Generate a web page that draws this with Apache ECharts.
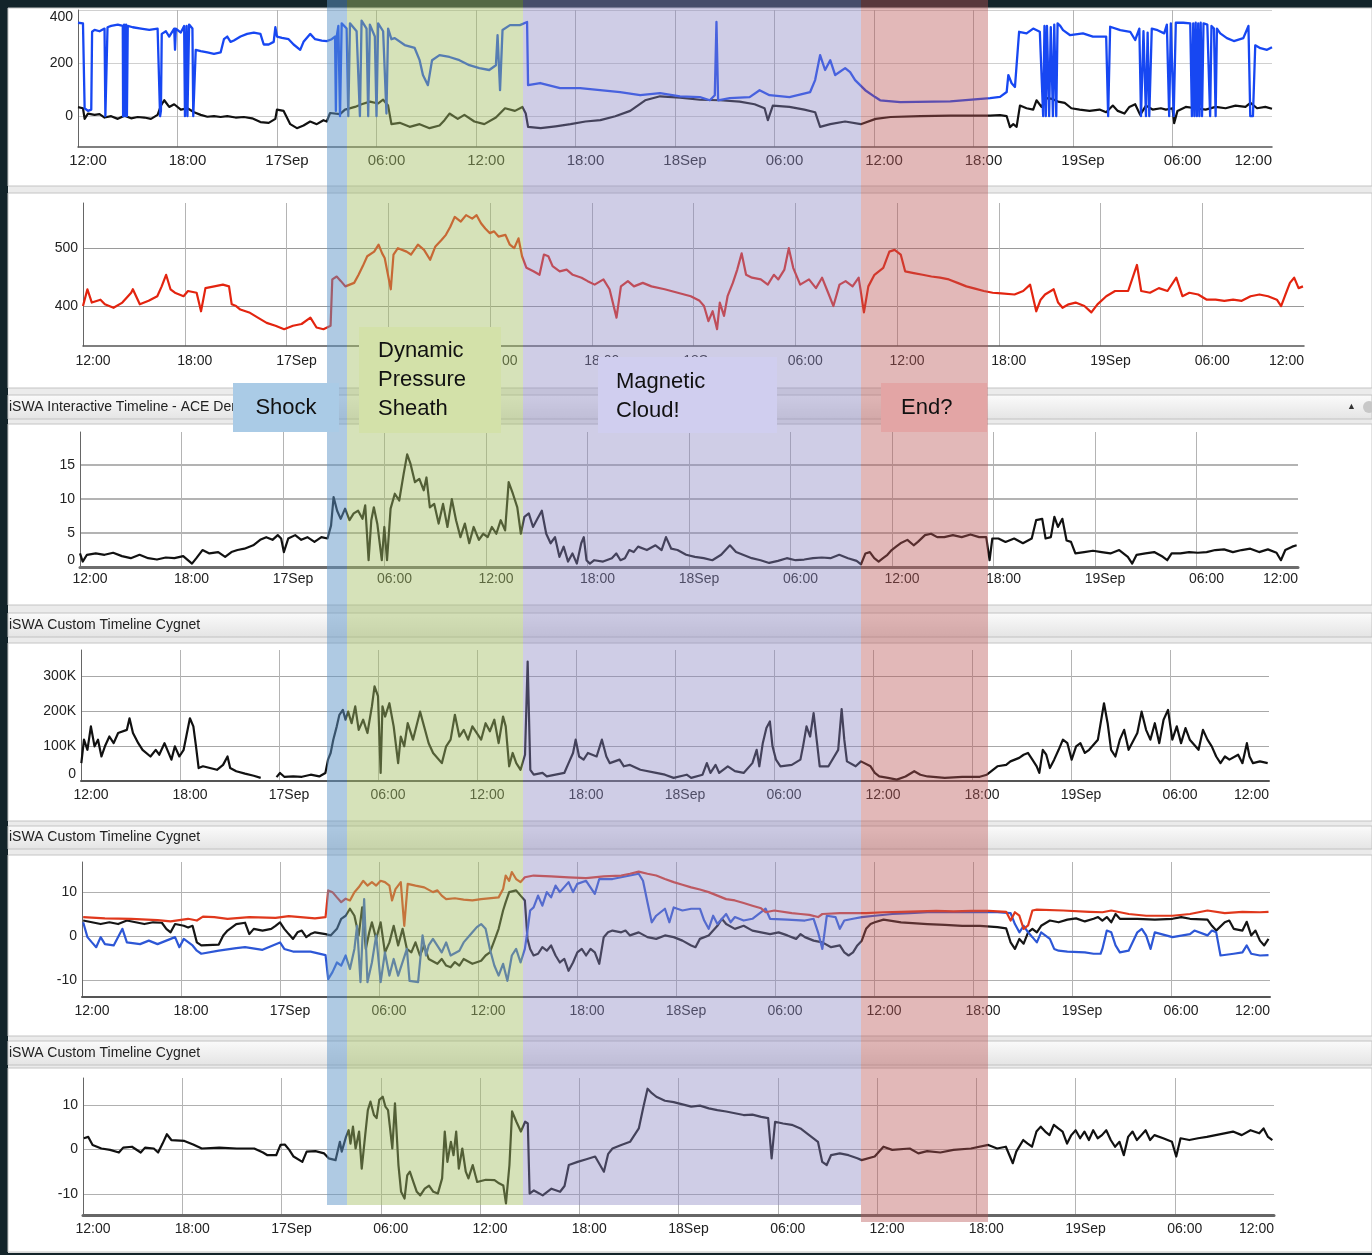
<!DOCTYPE html>
<html><head><meta charset="utf-8">
<script src="https://cdn.jsdelivr.net/npm/echarts@6/dist/echarts.min.js"></script>
<style>html,body{margin:0;padding:0;background:#13242a;overflow:hidden}#c{width:1372px;height:1255px}</style>
</head><body><div id="c"></div>
<script>
// time axis: hours since 16 Sep 12:00, tick every 6 h
const X_TICK_LABELS = ['12:00','18:00','17Sep','06:00','12:00','18:00','18Sep','06:00','12:00','18:00','19Sep','06:00','12:00'];

// Panel 1 (two traces)
const P1_Y_TICKS = [0, 200, 400];
const P1_BLACK = [[0,34],[0.3,30],[0.4,-10],[0.6,10],[1.0,5],[1.3,8],[1.6,-5],[2.0,0],[2.4,-10],[2.8,2],[3.2,-8],[3.6,-3],[4.0,-5],[4.4,-10],[4.8,5],[5.0,40],[5.2,60],[5.5,35],[5.8,45],[6.2,25],[6.6,30],[7.0,15],[7.4,5],[7.8,-2],[8.2,0],[8.6,-3],[9.0,0],[9.5,-5],[10.0,-3],[10.5,-8],[11.0,-22],[11.5,-25],[11.9,-10],[12.0,25],[12.4,20],[12.8,-30],[13.2,-45],[13.6,-35],[14.0,-20],[14.4,-30],[14.8,-15],[15.0,-20],[15.2,12],[15.8,8],[16.1,25],[16.7,35],[17.1,45],[17.6,55],[18.1,48],[18.4,62],[18.7,40],[18.9,-30],[19.4,-25],[20.0,-40],[20.6,-30],[21.2,-45],[21.8,-35],[22.1,-15],[22.4,10],[22.9,-10],[23.3,5],[23.9,-20],[24.5,-30],[25.2,-5],[25.75,30],[26.35,20],[26.8,35],[27.0,10],[27.14,-40],[27.9,-45],[28.8,-38],[29.7,-30],[30.6,-20],[31.5,-15],[32.4,0],[33.3,20],[34.2,60],[35.1,75],[36.3,70],[37.5,62],[38.7,60],[39.9,55],[40.8,45],[41.4,30],[41.6,-15],[41.9,40],[42.9,35],[43.8,25],[44.45,15],[44.75,-40],[45.36,-30],[46.26,-20],[47.2,-30],[48.1,-10],[49.0,-3],[50.8,0],[52.6,2],[55.0,2],[55.6,4],[56.0,0],[56.2,-41],[56.4,-30],[56.6,-40],[56.8,40],[57.2,30],[57.6,25],[57.8,60],[58.1,35],[58.4,68],[58.75,65],[59.1,55],[59.5,50],[59.9,30],[60.4,25],[61.0,20],[61.6,25],[62.0,15],[62.4,40],[62.7,20],[63.1,10],[63.4,35],[63.75,45],[64.05,5],[64.4,40],[64.8,25],[65.3,30],[65.6,25],[66.0,30],[66.1,-26],[66.3,20],[66.8,35],[67.4,30],[68.0,25],[68.6,35],[69.2,30],[69.8,40],[70.4,35],[70.7,50],[71.1,30],[71.6,35],[72.0,28]];
const P1_BLUE = [[0,352],[0.3,350],[0.4,30],[0.6,20],[0.8,25],[0.85,318],[1.0,325],[1.3,320],[1.6,330],[1.65,0],[1.75,0],[1.78,335],[2.0,340],[2.4,345],[2.7,340],[2.72,0],[2.78,345],[2.82,0],[2.9,345],[2.95,0],[3.0,340],[3.3,335],[3.8,330],[4.3,325],[4.8,330],[4.95,0],[5.0,20],[5.05,310],[5.3,320],[5.5,300],[5.8,330],[5.85,250],[5.9,330],[6.2,315],[6.4,340],[6.45,0],[6.55,340],[6.6,0],[6.65,0],[6.7,345],[6.9,330],[6.95,0],[7.05,0],[7.1,250],[7.4,245],[7.8,240],[8.2,235],[8.6,240],[8.8,290],[9.0,300],[9.2,280],[9.4,285],[9.8,300],[10.2,310],[10.6,315],[11.0,310],[11.2,270],[11.5,270],[11.8,280],[11.9,335],[12.0,300],[12.3,295],[12.7,290],[13.0,270],[13.4,250],[13.6,280],[14.0,310],[14.3,290],[14.7,285],[15.0,283],[15.3,290],[15.5,300],[15.55,20],[15.6,300],[15.7,340],[15.8,0],[15.9,350],[16.2,330],[16.3,0],[16.4,350],[16.8,320],[17.0,0],[17.1,360],[17.4,330],[17.5,0],[17.6,345],[17.9,300],[18.0,0],[18.1,350],[18.4,320],[18.6,10],[18.7,330],[18.9,290],[19.1,294],[19.7,268],[20.3,257],[20.6,211],[20.8,155],[21.1,117],[21.35,211],[21.8,230],[22.4,223],[23.0,211],[23.6,192],[24.2,181],[24.8,174],[25.2,192],[25.3,305],[25.45,98],[25.6,325],[26.05,343],[26.65,343],[27.08,355],[27.14,117],[27.26,117],[27.87,125],[29.07,106],[30.28,106],[31.48,98],[32.69,91],[33.9,79],[35.1,87],[36.3,75],[37.5,72],[38.1,60],[38.4,79],[38.5,355],[38.6,60],[39.3,68],[40.5,72],[41.1,98],[41.7,79],[42.9,72],[44.15,91],[44.45,136],[44.75,230],[45.05,174],[45.36,211],[45.66,155],[46.26,181],[46.56,166],[46.86,136],[47.47,98],[48.07,72],[48.37,60],[49.58,53],[52.6,56],[55.0,68],[55.6,73],[56.0,91],[56.1,155],[56.3,124],[56.5,110],[56.6,110],[56.75,318],[57.2,312],[57.6,330],[58.0,318],[58.2,0],[58.28,340],[58.36,0],[58.43,340],[58.56,0],[58.66,335],[58.79,0],[58.87,345],[58.99,0],[59.07,350],[59.23,340],[59.4,324],[59.83,305],[60.6,312],[61.2,300],[62.0,300],[62.12,0],[62.24,337],[62.85,324],[63.45,318],[63.75,287],[64.0,330],[64.1,0],[64.25,320],[64.4,0],[64.5,315],[64.6,0],[64.75,330],[65.1,324],[65.5,312],[65.66,345],[65.8,0],[65.9,350],[66.07,0],[66.2,352],[66.65,352],[67.07,350],[67.17,0],[67.25,350],[67.32,0],[67.4,352],[67.47,0],[67.55,350],[67.62,0],[67.7,352],[67.78,0],[67.87,350],[68.1,345],[68.27,0],[68.35,340],[68.5,330],[68.6,0],[68.68,330],[68.88,312],[69.28,294],[69.7,283],[70.27,294],[70.58,340],[70.69,0],[70.85,0],[70.99,267],[71.3,256],[71.7,250],[72.0,260]];

// Panel 2 (red trace)
const P2_Y_TICKS = [400, 500];
const P2_RED = [[0,400],[0.26,429],[0.52,406],[1.03,411],[1.29,403],[1.8,397],[2.32,406],[2.84,423],[2.94,429],[3.35,403],[3.87,409],[4.38,417],[4.64,434],[4.9,454],[5.16,429],[5.42,423],[5.93,417],[6.19,426],[6.7,423],[6.96,391],[7.22,431],[7.74,434],[8.25,437],[8.61,434],[8.77,403],[9.03,400],[9.28,394],[9.8,389],[10.31,380],[10.83,371],[11.35,366],[11.86,360],[12.38,366],[12.89,369],[13.41,380],[13.77,363],[14.18,360],[14.6,366],[14.7,446],[14.96,451],[15.21,443],[15.47,434],[15.99,440],[16.25,454],[16.5,469],[16.76,486],[17.17,494],[17.43,506],[17.64,491],[17.79,483],[18.15,429],[18.31,489],[18.57,500],[19.08,494],[19.34,489],[19.75,506],[20.11,497],[20.47,480],[20.78,503],[21.14,514],[21.4,523],[21.66,537],[21.92,554],[22.28,546],[22.59,557],[22.95,551],[23.21,557],[23.47,543],[23.72,534],[23.98,526],[24.24,529],[24.5,520],[24.91,523],[25.17,506],[25.43,500],[25.68,517],[25.89,486],[26.15,466],[26.56,460],[26.92,454],[27.18,489],[27.44,486],[27.69,469],[28.11,460],[28.52,463],[28.88,454],[29.4,449],[29.76,443],[30.17,437],[30.69,446],[31.05,429],[31.46,380],[31.72,434],[32.13,443],[32.49,434],[33.01,440],[33.52,434],[34.3,429],[35.07,423],[35.84,417],[36.36,409],[36.62,400],[36.88,374],[37.13,391],[37.39,360],[37.55,406],[37.8,383],[38.01,417],[38.32,440],[38.58,463],[38.84,491],[39.1,454],[39.45,449],[39.97,446],[40.38,437],[40.74,454],[41.0,446],[41.36,463],[41.62,500],[41.88,466],[42.29,437],[42.81,446],[43.22,431],[43.58,449],[43.94,423],[44.25,400],[44.61,437],[44.97,443],[45.38,434],[45.74,449],[46.05,389],[46.31,434],[46.67,454],[47.19,466],[47.55,494],[47.86,497],[48.22,489],[48.48,460],[48.99,457],[49.51,454],[50.03,451],[50.54,449],[51.06,446],[51.57,440],[52.09,434],[52.6,430],[53.12,426],[53.64,423],[54.15,422],[54.93,420],[55.44,426],[55.85,437],[56.21,391],[56.47,411],[56.73,420],[57.24,429],[57.5,406],[57.76,397],[58.12,403],[58.53,406],[59.05,400],[59.46,389],[59.82,403],[60.34,417],[60.86,426],[61.63,426],[62.15,471],[62.4,426],[62.92,423],[63.44,431],[63.95,426],[64.47,449],[64.83,417],[65.24,423],[65.76,420],[66.27,411],[66.79,411],[67.3,409],[67.82,411],[68.33,409],[68.85,417],[69.37,420],[69.88,417],[70.4,411],[70.65,400],[70.91,420],[71.17,440],[71.42,449],[71.68,431],[71.94,434]];

// Panel 3 (black trace)
const P3_Y_TICKS = [0, 5, 10, 15];
const P3_BLACK = [[0,2.0],[0.16,0.8],[0.41,1.8],[0.93,2.0],[1.45,1.8],[1.96,2.1],[2.48,1.6],[3.0,1.3],[3.52,1.8],[4.03,1.3],[4.55,1.1],[5.07,1.4],[5.58,1.3],[6.1,1.6],[6.62,0.5],[6.88,1.3],[7.24,2.5],[7.65,2.0],[8.17,2.2],[8.58,1.5],[8.95,2.2],[9.31,2.5],[9.72,2.7],[10.24,3.2],[10.65,4.0],[11.01,4.4],[11.38,4.0],[11.69,4.7],[11.89,4.2],[12.05,2.2],[12.31,4.2],[12.72,4.7],[13.08,4.0],[13.44,4.4],[13.86,3.7],[14.27,4.4],[14.63,4.2],[14.84,6.1],[14.99,10.3],[15.2,8.3],[15.41,7.1],[15.67,8.6],[15.93,6.9],[16.18,7.9],[16.44,8.3],[16.7,7.1],[16.86,9.1],[17.06,1.0],[17.22,6.9],[17.37,8.8],[17.58,6.3],[17.84,1.0],[17.99,5.9],[18.15,1.0],[18.36,8.6],[18.61,10.8],[18.87,9.8],[19.13,13.7],[19.34,16.6],[19.54,15.2],[19.8,12.5],[20.06,13.0],[20.32,11.3],[20.48,13.2],[20.68,8.8],[20.94,9.3],[21.2,6.4],[21.46,9.3],[21.72,5.9],[21.98,10.0],[22.23,6.9],[22.49,4.4],[22.75,6.4],[23.01,3.5],[23.27,5.9],[23.58,4.0],[23.84,4.9],[24.1,4.4],[24.35,5.9],[24.61,4.9],[24.87,6.9],[25.13,5.4],[25.34,12.5],[25.59,10.8],[25.85,8.8],[26.06,4.9],[26.27,7.4],[26.53,7.9],[26.78,5.9],[27.04,7.1],[27.3,8.3],[27.56,4.9],[27.82,3.5],[28.08,4.4],[28.34,1.5],[28.59,3.0],[28.85,0.8],[29.11,2.0],[29.37,0.5],[29.63,3.5],[29.78,4.4],[29.94,1.0],[30.14,0.5],[30.4,1.0],[30.92,0.8],[31.44,1.3],[31.7,2.0],[31.95,1.0],[32.21,1.3],[32.47,2.5],[32.73,2.2],[32.99,3.0],[33.51,2.5],[34.02,3.2],[34.38,2.5],[34.64,4.4],[34.95,2.7],[35.32,2.5],[35.83,1.8],[36.35,1.5],[36.87,1.3],[37.38,1.0],[37.9,1.8],[38.42,3.2],[38.78,2.2],[39.19,1.8],[39.71,1.3],[40.23,1.0],[40.74,0.6],[41.26,0.9],[41.78,1.3],[42.3,1.0],[42.81,1.1],[43.33,1.3],[43.85,1.4],[44.36,1.3],[44.88,1.8],[45.4,1.3],[45.91,0.9],[46.17,0.4],[46.43,2.0],[46.69,2.2],[46.95,1.3],[47.21,0.8],[47.47,1.3],[47.73,1.8],[47.98,2.5],[48.24,3.0],[48.5,3.5],[48.91,4.0],[49.28,3.2],[49.53,3.7],[49.95,4.7],[50.31,4.9],[50.67,4.4],[51.09,4.4],[51.6,4.7],[52.12,4.4],[52.64,4.8],[53.15,4.4],[53.57,4.4],[53.77,1.0],[53.93,4.2],[54.29,4.2],[54.71,3.7],[55.22,4.2],[55.74,3.5],[56.26,4.2],[56.52,6.9],[56.88,7.1],[57.08,4.2],[57.39,4.4],[57.6,7.4],[57.81,5.9],[58.07,7.1],[58.32,3.9],[58.58,3.7],[58.84,2.0],[59.36,2.2],[59.88,2.4],[60.39,2.2],[60.91,2.0],[61.43,2.5],[61.94,1.5],[62.2,0.5],[62.46,1.8],[62.98,2.0],[63.5,2.2],[64.01,1.5],[64.27,1.0],[64.53,2.0],[65.05,2.0],[65.56,2.2],[66.08,2.1],[66.6,2.2],[67.11,2.5],[67.63,2.6],[68.15,2.2],[68.67,2.5],[69.18,2.7],[69.7,2.2],[70.22,2.6],[70.73,2.1],[70.99,1.0],[71.25,2.5],[71.66,3.0],[71.92,3.2]];

// Panel 4 (black trace, thousands)
const P4_Y_TICKS = [0, 100, 200, 300];
const P4_BLACK = [[0.02,51],[0.18,118],[0.39,89],[0.6,156],[0.82,99],[1.03,118],[1.24,70],[1.45,99],[1.72,127],[1.98,108],[2.25,137],[2.78,146],[2.94,179],[3.15,137],[3.47,108],[3.73,89],[4.21,70],[4.53,89],[4.74,75],[5.06,108],[5.48,61],[5.69,99],[5.96,70],[6.22,89],[6.38,127],[6.6,179],[6.81,156],[6.97,99],[7.13,37],[7.39,42],[8.24,32],[8.61,46],[8.88,70],[9.04,37],[9.41,28],[9.94,21],[10.47,15],[10.89,9],[11.2,'-'],[11.85,11],[12.06,23],[12.32,12],[12.86,13],[13.39,12],[13.92,18],[14.44,13],[14.81,23],[14.97,61],[15.13,80],[15.29,118],[15.5,156],[15.66,189],[15.87,203],[16.03,175],[16.19,198],[16.4,165],[16.62,213],[16.83,146],[17.1,175],[17.36,137],[17.63,213],[17.79,270],[18.0,242],[18.16,23],[18.27,213],[18.43,184],[18.69,222],[18.95,156],[19.22,51],[19.38,127],[19.59,99],[19.8,165],[20.12,118],[20.55,198],[21.07,108],[21.34,80],[21.87,51],[22.13,99],[22.4,118],[22.66,189],[22.93,127],[23.2,146],[23.46,118],[23.72,156],[24.25,118],[24.52,165],[24.78,142],[25.05,175],[25.31,108],[25.58,184],[25.74,156],[25.95,42],[26.16,80],[26.38,51],[26.64,32],[26.91,75],[27.07,341],[27.23,32],[27.44,18],[27.97,23],[28.23,13],[28.76,18],[29.29,23],[29.55,51],[29.82,80],[29.98,118],[30.19,70],[30.46,61],[30.72,80],[31.25,70],[31.57,118],[31.84,70],[32.05,51],[32.64,61],[32.9,42],[33.27,46],[33.9,32],[34.86,23],[35.39,18],[35.92,9],[36.71,18],[36.98,9],[37.67,18],[37.93,51],[38.15,23],[38.46,46],[38.68,23],[39.2,42],[39.63,28],[40.16,23],[40.69,51],[40.95,89],[41.11,42],[41.32,108],[41.54,151],[41.75,170],[41.91,99],[42.12,61],[42.39,42],[43.08,46],[43.6,61],[43.76,99],[43.97,156],[44.19,127],[44.4,194],[44.61,108],[44.77,42],[45.3,42],[45.89,89],[46.1,205],[46.26,118],[46.42,56],[46.95,42],[47.27,56],[47.85,42],[48.11,23],[48.38,13],[48.91,9],[49.44,4],[49.97,13],[50.5,28],[50.87,18],[51.3,13],[52.35,9],[53.41,12],[54.47,12],[54.9,18],[55.27,32],[55.54,42],[56.07,46],[56.33,56],[56.86,66],[57.13,75],[57.39,80],[57.66,61],[57.92,42],[58.08,23],[58.29,89],[58.5,75],[58.72,37],[58.98,61],[59.25,89],[59.51,118],[59.78,108],[60.04,61],[60.31,99],[60.57,108],[60.84,80],[61.1,89],[61.63,118],[62.0,222],[62.22,165],[62.43,89],[62.69,70],[62.96,118],[63.22,146],[63.49,89],[64.02,137],[64.28,198],[64.55,146],[64.81,118],[65.08,165],[65.35,108],[65.61,175],[65.88,203],[66.14,118],[66.41,156],[66.67,108],[66.94,151],[67.2,118],[67.73,89],[68.0,146],[68.27,118],[68.53,99],[68.8,70],[69.06,51],[69.33,70],[69.6,61],[70.13,75],[70.39,51],[70.66,108],[70.82,70],[71.03,51],[71.45,56],[71.92,51]];

// Panel 5 (three traces)
const P5_Y_TICKS = [-10, 0, 10];
const P5_BLACK = [[0.07,3.6],[0.6,3.2],[1.13,2.8],[1.66,3.2],[2.19,2.8],[2.72,3.6],[3.25,3.2],[3.78,2.8],[4.31,3.2],[4.84,3.1],[5.11,1.7],[5.37,0.9],[5.64,2.8],[6.17,2.4],[6.43,2.0],[6.7,2.4],[6.96,-1.4],[7.23,-2.1],[8.29,-1.9],[8.56,0.2],[8.82,1.3],[9.35,2.8],[9.88,3.1],[10.14,0.5],[10.41,1.7],[10.94,1.3],[11.47,1.7],[11.73,2.4],[12.0,3.2],[12.26,1.7],[12.53,0.5],[12.79,-0.6],[13.06,0.9],[13.32,1.3],[13.59,-0.2],[13.85,0.5],[14.12,0.9],[14.76,0.5],[15.07,0.2],[15.45,1.7],[15.71,4.0],[15.98,4.7],[16.24,6.3],[16.51,4.7],[16.77,0.2],[16.98,6.6],[17.2,-2.9],[17.41,0.9],[17.57,3.2],[17.83,-0.6],[18.1,3.2],[18.36,-3.7],[18.63,-1.4],[18.89,2.4],[19.16,-2.1],[19.43,1.7],[19.69,-2.9],[19.96,-3.7],[20.21,-1.4],[20.48,-4.4],[20.74,-2.1],[21.01,-5.2],[21.54,-6.3],[21.8,-5.2],[22.07,-6.7],[22.34,-7.1],[22.6,-5.9],[22.87,-6.7],[23.13,-5.2],[23.66,-6.3],[24.19,-5.6],[24.46,-4.4],[24.72,-3.7],[24.99,-1.0],[25.25,1.7],[25.52,5.9],[25.68,7.8],[25.89,10.1],[26.31,10.5],[26.58,9.3],[26.84,8.2],[27.0,-0.6],[27.16,-2.9],[27.37,-4.4],[27.64,-4.0],[27.9,-2.5],[28.17,-3.3],[28.43,-2.1],[28.7,-4.4],[28.96,-6.0],[29.23,-5.2],[29.49,-7.9],[29.76,-6.0],[30.02,-3.7],[30.29,-2.9],[30.55,-4.4],[30.82,-2.9],[31.08,-3.7],[31.35,-6.3],[31.62,-0.2],[31.88,0.9],[32.15,1.3],[32.68,0.9],[32.94,1.3],[33.21,0.2],[33.74,0.9],[34.27,-0.2],[34.8,-0.6],[35.33,0.2],[35.86,-0.2],[36.39,-1.0],[36.92,-2.1],[37.18,-2.5],[37.45,-0.6],[37.98,0.2],[38.51,2.4],[38.78,4.0],[39.04,2.8],[39.57,1.7],[40.1,2.4],[40.63,1.3],[41.16,0.9],[41.7,0.5],[42.22,0.9],[42.75,0.2],[43.28,-0.6],[43.55,0.5],[43.81,-0.2],[44.34,-1.0],[44.87,-1.4],[45.4,-2.5],[45.93,-2.1],[46.2,-3.7],[46.46,-4.4],[46.73,-3.7],[46.99,-2.1],[47.26,-1.0],[47.52,1.7],[47.79,2.8],[48.05,3.2],[48.58,3.8],[49.64,3.2],[51.24,2.8],[52.3,2.6],[53.35,2.4],[54.42,2.4],[55.48,2.1],[56.01,1.8],[56.28,-1.4],[56.54,-2.9],[56.81,-0.6],[57.07,-1.7],[57.34,0.9],[57.6,1.7],[57.87,0.9],[58.13,2.4],[58.66,3.6],[59.19,3.2],[59.72,3.8],[60.25,4.1],[60.78,3.4],[61.31,4.0],[61.58,4.4],[61.84,3.6],[62.11,4.4],[62.38,3.2],[62.64,5.1],[62.9,4.0],[63.96,4.0],[65.02,3.8],[66.09,4.0],[66.62,4.4],[67.15,4.0],[68.21,3.8],[68.48,2.4],[68.74,1.3],[69.26,3.2],[69.53,3.6],[69.8,1.7],[70.33,1.3],[70.59,3.3],[70.86,0.2],[71.12,1.3],[71.39,-1.0],[71.65,-2.1],[71.91,-0.6]];
const P5_BLUE = [[0.07,3.2],[0.33,-0.2],[0.6,-1.4],[0.86,-2.5],[1.13,-0.2],[1.39,-1.8],[1.92,-2.1],[2.45,1.7],[2.72,-1.4],[3.52,-1.8],[4.05,-1.0],[4.58,-1.8],[5.64,-0.2],[5.9,-2.5],[6.17,-0.6],[6.7,-2.1],[6.96,-3.3],[7.23,-4.0],[8.29,-3.3],[9.35,-2.7],[9.88,-2.5],[10.94,-3.1],[12.0,-1.4],[12.26,-2.9],[12.79,-3.5],[13.85,-3.5],[14.76,-4.3],[14.92,-9.8],[15.18,-8.2],[15.45,-6.0],[15.71,-6.7],[15.98,-4.4],[16.24,-7.5],[16.51,-2.9],[16.67,2.4],[16.88,-10.5],[17.1,8.5],[17.3,-10.5],[17.57,-6.0],[17.83,0.2],[18.1,-10.5],[18.36,-3.7],[18.63,-9.0],[18.89,-5.2],[19.16,-9.0],[19.69,-2.9],[19.85,-10.2],[20.37,-10.5],[20.64,0.2],[20.85,-4.4],[21.01,-2.1],[21.27,-0.6],[21.8,-3.7],[22.07,-1.4],[22.34,-4.4],[22.87,-3.3],[23.13,-1.4],[23.66,0.9],[23.93,2.1],[24.19,2.8],[24.46,1.7],[24.72,-2.9],[24.99,-6.7],[25.25,-9.0],[25.52,-6.3],[25.78,-10.2],[26.05,-4.4],[26.31,-2.9],[26.58,-6.0],[26.84,-2.9],[27.0,1.3],[27.16,5.9],[27.37,6.6],[27.64,9.3],[27.9,7.0],[28.17,10.1],[28.43,8.9],[28.7,11.6],[28.96,10.1],[29.49,12.4],[29.76,10.1],[30.02,12.0],[30.55,12.7],[31.08,9.7],[31.35,13.1],[32.15,13.1],[33.21,13.9],[33.74,14.3],[34.0,12.7],[34.27,7.8],[34.53,3.2],[34.8,4.7],[35.33,6.3],[35.6,3.2],[35.86,6.6],[36.39,5.9],[36.92,6.3],[37.45,6.3],[37.71,3.6],[37.98,1.7],[38.25,4.7],[38.51,2.8],[39.04,5.1],[39.31,3.2],[39.57,4.4],[40.1,3.6],[40.63,4.0],[41.43,6.3],[41.7,4.0],[42.75,3.8],[43.81,3.6],[44.34,4.0],[44.61,0.9],[44.87,-2.9],[45.14,4.7],[45.67,4.4],[45.93,1.7],[46.2,3.6],[46.73,4.0],[47.26,4.4],[48.05,4.7],[49.11,5.1],[50.17,5.3],[51.24,5.5],[53.35,5.5],[55.48,5.5],[56.28,5.3],[56.54,2.8],[56.81,0.9],[57.07,2.4],[57.34,0.9],[57.6,-0.2],[57.87,-1.4],[58.13,0.9],[58.66,-0.6],[58.92,-2.9],[59.19,-3.3],[59.72,-3.5],[60.78,-3.7],[61.31,-4.0],[61.73,-4.0],[61.84,-2.9],[62.11,1.3],[62.38,0.9],[62.64,-2.1],[62.9,-3.7],[63.43,-3.3],[63.96,0.9],[64.23,1.7],[64.49,0.2],[64.76,-2.9],[65.02,0.9],[66.09,-0.2],[67.15,0.5],[67.42,1.3],[68.21,0.2],[68.48,1.3],[68.74,0.9],[69.0,-4.4],[69.8,-4.0],[70.33,-3.7],[70.59,-2.1],[70.86,-4.0],[71.39,-4.4],[71.91,-4.3]];
const P5_RED = [[0.07,4.4],[1.39,4.1],[2.98,4.0],[4.58,3.7],[5.37,3.4],[6.43,4.0],[6.96,3.6],[7.33,4.5],[8.02,4.4],[8.82,4.0],[10.14,4.4],[11.73,4.2],[12.53,4.6],[14.12,4.1],[14.76,4.4],[14.92,10.5],[15.18,10.1],[15.45,8.9],[15.71,7.8],[15.98,8.6],[16.24,8.2],[16.51,10.1],[16.77,11.2],[17.04,12.7],[17.3,11.6],[17.57,12.4],[17.83,11.6],[18.1,12.7],[18.36,12.4],[18.63,11.6],[18.79,8.2],[19.0,10.8],[19.32,12.4],[19.53,2.4],[19.74,12.0],[20.21,11.6],[20.74,11.2],[21.27,10.1],[21.54,10.5],[21.8,9.3],[22.07,8.5],[22.6,8.7],[23.13,8.4],[23.66,8.2],[24.19,8.5],[25.25,8.9],[25.52,10.8],[25.68,13.9],[25.89,12.7],[26.05,14.7],[26.31,13.1],[26.58,12.4],[26.84,13.5],[27.37,13.9],[28.43,13.7],[29.49,13.5],[30.55,13.3],[31.62,13.7],[32.68,13.9],[33.21,14.3],[33.74,14.8],[34.27,14.3],[34.8,13.9],[35.33,13.1],[35.86,12.4],[36.39,11.8],[36.92,11.2],[37.45,10.7],[37.98,10.1],[38.51,9.3],[39.04,8.5],[39.57,8.2],[40.1,7.6],[40.63,7.0],[41.16,6.4],[41.43,5.5],[41.96,5.9],[43.02,5.3],[43.55,5.1],[44.08,4.9],[44.61,4.4],[44.87,5.1],[45.93,5.3],[47.52,5.3],[48.58,5.5],[49.64,5.6],[50.71,5.7],[51.77,5.8],[52.83,5.7],[53.89,5.8],[54.95,5.8],[56.01,5.6],[56.28,3.6],[56.54,5.5],[56.81,4.7],[57.07,1.7],[57.34,2.5],[57.6,5.9],[57.87,6.1],[59.46,5.9],[61.05,5.6],[61.85,5.5],[62.38,5.9],[63.44,5.1],[64.5,4.7],[66.09,4.7],[67.15,5.1],[68.21,5.9],[69.26,5.3],[70.33,5.6],[71.39,5.5],[71.91,5.6]];

// Panel 6 (black trace)
const P6_Y_TICKS = [-10, 0, 10];
const P6_BLACK = [[0.05,2.5],[0.32,2.8],[0.58,1.0],[1.11,0.2],[1.64,-0.1],[2.17,-0.7],[2.43,0.4],[2.96,0.6],[3.49,-0.7],[3.75,0.4],[4.28,0.2],[4.54,-0.7],[4.81,1.3],[5.07,3.4],[5.34,2.1],[6.13,1.9],[6.66,1.1],[7.18,0.2],[8.24,0.4],[9.3,0.2],[10.35,0.2],[10.88,-0.7],[11.15,-1.3],[11.68,-1.3],[11.94,1.0],[12.2,1.1],[12.47,-0.1],[12.73,-1.6],[13.26,-2.8],[13.52,-0.5],[14.05,-0.4],[14.58,-0.9],[14.85,-2.0],[15.27,-2.4],[15.53,1.7],[15.64,-0.5],[15.9,2.8],[16.06,4.3],[16.17,1.3],[16.32,5.1],[16.48,0.2],[16.69,4.0],[16.85,-4.3],[17.06,3.2],[17.22,8.8],[17.38,10.7],[17.59,7.7],[17.75,7.0],[17.91,11.1],[18.12,11.8],[18.28,9.6],[18.44,8.8],[18.54,5.5],[18.7,0.2],[18.86,10.3],[19.07,-3.5],[19.23,-9.5],[19.44,-11.0],[19.6,-5.8],[19.76,-5.0],[19.97,-7.3],[20.18,-9.5],[20.39,-10.3],[20.66,-8.8],[20.92,-8.1],[21.18,-9.5],[21.45,-9.9],[21.71,-6.5],[21.87,4.0],[22.03,-2.8],[22.24,1.7],[22.4,-1.3],[22.56,4.0],[22.72,-4.3],[22.93,0.2],[23.14,-5.0],[23.3,-6.5],[23.56,-3.5],[23.83,-7.3],[24.35,-6.8],[24.88,-6.9],[25.15,-7.6],[25.41,-8.1],[25.57,-12.1],[25.78,-3.5],[25.94,8.5],[26.2,6.2],[26.47,4.0],[26.73,6.2],[26.89,5.8],[27.0,-9.9],[27.26,-9.2],[27.79,-10.3],[28.32,-8.8],[28.84,-9.5],[29.11,-8.2],[29.37,-3.5],[29.9,-2.8],[30.43,-2.2],[30.96,-1.6],[31.49,-5.0],[31.75,-1.0],[32.01,0.2],[32.54,1.0],[33.07,1.7],[33.6,4.7],[33.86,9.2],[34.13,13.6],[34.39,12.6],[34.66,11.8],[35.18,10.9],[35.71,10.6],[36.24,10.1],[36.77,9.6],[37.3,9.8],[37.83,9.2],[38.35,8.8],[38.88,8.5],[39.41,8.1],[39.94,7.7],[40.47,7.8],[41.0,7.3],[41.42,7.0],[41.63,-2.0],[41.84,6.2],[42.32,5.8],[42.85,5.5],[43.37,4.7],[43.9,3.2],[44.43,1.7],[44.69,-2.8],[44.96,-3.5],[45.22,-1.3],[45.75,-0.9],[46.28,-1.3],[46.81,-2.0],[47.07,-2.4],[47.86,-1.6],[48.39,0.6],[48.92,-0.1],[49.98,0.2],[50.5,-0.9],[51.03,-0.4],[51.83,-0.7],[52.62,-0.1],[53.68,0.2],[54.73,1.0],[55.26,0.2],[55.79,0.6],[56.21,-3.1],[56.42,-0.5],[56.84,2.1],[57.11,1.3],[57.37,0.6],[57.64,4.0],[57.9,5.1],[58.17,4.0],[58.43,3.2],[58.69,5.5],[58.96,4.7],[59.22,4.0],[59.49,1.3],[59.75,3.2],[60.01,4.3],[60.28,2.5],[60.54,4.0],[60.81,2.1],[61.07,4.3],[61.34,2.5],[61.6,3.2],[61.86,4.3],[62.13,2.1],[62.39,0.6],[62.66,1.7],[62.92,-1.3],[63.18,2.8],[63.45,4.0],[63.71,2.1],[63.98,3.2],[64.24,4.3],[64.51,2.1],[64.77,3.2],[65.3,2.5],[65.83,1.7],[66.09,-1.6],[66.35,2.5],[66.88,2.1],[67.41,2.5],[67.94,2.8],[68.47,3.2],[69.0,3.6],[69.52,4.0],[70.05,3.2],[70.58,4.3],[71.11,3.6],[71.37,4.7],[71.64,2.8],[71.9,2.1]];

const FONT = '"Liberation Sans", Arial, Helvetica, sans-serif';

// panel plot rectangles (layout only)
const GRIDS = [
  {left:78, top:10, width:1194, height:137},
  {left:83, top:203, width:1221, height:143},
  {left:80, top:432, width:1218, height:135},
  {left:81, top:650, width:1188, height:131},
  {left:82, top:862, width:1188, height:135},
  {left:83, top:1078, width:1191, height:137}
];
const Y_RANGES = [[-116,400],[331,578],[0,19.9],[0,374],[-13.9,17],[-14.7,16]];
const Y_TICKS = [P1_Y_TICKS, P2_Y_TICKS, P3_Y_TICKS, P4_Y_TICKS, P5_Y_TICKS, P6_Y_TICKS];
const X_MARGINS = [6, 8, 5, 7, 7, 7];
const X_FONT = [15, 14, 14, 14, 14, 14];
const BOTTOM_LINES = [{c:'#555',w:1.5},{c:'#555',w:1.5},{c:'#6d6d6d',w:3},{c:'#555',w:2},{c:'#555',w:2},{c:'#666',w:3}];
const HSPLIT = ['#d0d0d0','#9a9a9a','#9a9a9a','#a8a8a8','#b0b0b0','#b0b0b0'];

const xAxes = GRIDS.map((g,i)=>({
  type:'value', gridIndex:i, min:0, max:72, interval:6, position:'bottom',
  axisLine:{show:true, onZero:false, lineStyle:{color:BOTTOM_LINES[i].c, width:BOTTOM_LINES[i].w}},
  axisTick:{show:false},
  axisLabel:{
    formatter:v=>X_TICK_LABELS[Math.round(v/6)] || '',
    margin:X_MARGINS[i], fontSize:X_FONT[i], color:'#222', fontFamily:FONT,
    padding:[0,0,0,20], alignMaxLabel:'right', showMinLabel:true, showMaxLabel:true
  },
  splitLine:{show:true, showMinLine:false, showMaxLine:false, lineStyle:{color:'#b4b4b4', width:1}}
}));

const yAxes = GRIDS.map((g,i)=>({
  type:'value', gridIndex:i, min:Y_RANGES[i][0], max:Y_RANGES[i][1],
  axisLine:{show:true, onZero:false, lineStyle:{color:'#666', width:1}},
  axisTick:{show:false, customValues:Y_TICKS[i]},
  axisLabel:{
    customValues:Y_TICKS[i], margin:5, fontSize:14, color:'#222', fontFamily:FONT,
    formatter: i===3 ? (v=> v===0 ? '0' : v+'K') : (v=>String(v)),
    verticalAlignMaxLabel: i===0 ? 'top' : null,
    verticalAlignMinLabel: (i===2||i===3) ? 'bottom' : null
  },
  splitLine:{show:true, lineStyle:{color:HSPLIT[i], width: i===2 ? 1.5 : 1}}
}));

function line(data, idx, color, width){
  return {type:'line', xAxisIndex:idx, yAxisIndex:idx, data:data, showSymbol:false, symbol:'none',
    lineStyle:{color:color, width:width, join:'round'}, itemStyle:{color:color}, silent:true, z:3, connectNulls:false, animation:false};
}

const series = [
  line(P1_BLACK,0,'#111',2.2), line(P1_BLUE,0,'#1747f2',2.3),
  line(P2_RED,1,'#e3240f',2.2),
  line(P3_BLACK,2,'#111',2.2),
  line(P4_BLACK,3,'#111',2.2),
  line(P5_BLACK,4,'#151515',2.2), line(P5_BLUE,4,'#2d57d6',2.2), line(P5_RED,4,'#e0381c',2.2),
  line(P6_BLACK,5,'#111',2.2)
];

// page chrome: panel boxes and title bars
const PANELS = [[8,8,1364,178],[8,193,1364,195],[8,424,1364,181],[8,643,1364,178],[8,855,1364,181],[8,1068,1364,184]];
const BARS = [
  {y:395, h:24, text:'iSWA Interactive Timeline - ACE Der', icons:true},
  {y:613, h:24, text:'iSWA Custom Timeline Cygnet'},
  {y:826, h:23, text:'iSWA Custom Timeline Cygnet'},
  {y:1041, h:24, text:'iSWA Custom Timeline Cygnet'}
];
const graphic = [];
graphic.push({type:'rect', z:-110, silent:true, shape:{x:8,y:8,width:1364,height:1245}, style:{fill:'#ebebeb'}});
PANELS.forEach(p=>graphic.push({type:'rect', z:-100, silent:true, shape:{x:p[0],y:p[1],width:p[2],height:p[3]}, style:{fill:'#fff', stroke:'#c4c4c4', lineWidth:1}}));
BARS.forEach(b=>{
  graphic.push({type:'rect', z:-90, silent:true, shape:{x:8,y:b.y,width:1364,height:b.h},
    style:{fill:{type:'linear',x:0,y:0,x2:0,y2:1,colorStops:[{offset:0,color:'#fbfbfb'},{offset:1,color:'#e4e4e4'}]}, stroke:'#c2c2c2', lineWidth:1}});
  graphic.push({type:'text', z:-80, silent:true, x:9, y:b.y+b.h/2, style:{text:b.text, font:'14px '+FONT, fill:'#222', textVerticalAlign:'middle'}});
  if(b.icons){
    graphic.push({type:'text', z:-80, silent:true, x:1347, y:b.y+b.h/2, style:{text:'\u25B2', font:'9px '+FONT, fill:'#333', textVerticalAlign:'middle'}});
    graphic.push({type:'circle', z:-80, silent:true, shape:{cx:1369,cy:b.y+b.h/2,r:6}, style:{fill:'#c8c8c8'}});
  }
});

// event bands (overlay across all panels)
const BANDS = [
  {x:327, w:20, h:1205, fill:'rgba(95,150,200,0.5)'},
  {x:347, w:176, h:1205, fill:'rgba(165,190,100,0.45)'},
  {x:523, w:338, h:1205, fill:'rgba(140,135,195,0.42)'},
  {x:861, w:127, h:1222, fill:'rgba(185,85,85,0.42)'}
];
BANDS.forEach(b=>graphic.push({type:'rect', z:100, silent:true, shape:{x:b.x,y:0,width:b.w,height:b.h}, style:{fill:b.fill}}));

const TAGS = [
  {x:233,y:383,w:106,h:49,fill:'#aacbe6',lines:['Shock'],tx:286,align:'center',ty:408},
  {x:359,y:327,w:142,h:106,fill:'#d3e1a9',lines:['Dynamic','Pressure','Sheath'],tx:378,align:'left',ty:351},
  {x:598,y:357,w:179,h:76,fill:'#d0ceef',lines:['Magnetic','Cloud!'],tx:616,align:'left',ty:382},
  {x:881,y:383,w:106,h:49,fill:'#e3a5a5',lines:['End?'],tx:901,align:'left',ty:408}
];
TAGS.forEach(t=>{
  graphic.push({type:'rect', z:110, silent:true, shape:{x:t.x,y:t.y,width:t.w,height:t.h}, style:{fill:t.fill}});
  t.lines.forEach((s,k)=>graphic.push({type:'text', z:111, silent:true, x:t.tx, y:t.ty+k*29,
    style:{text:s, font:'22px '+FONT, fill:'#111', textAlign:t.align, textVerticalAlign:'middle'}}));
});

const chart = echarts.init(document.getElementById('c'), null, {renderer:'canvas'});
chart.setOption({
  animation:false,
  backgroundColor:'#13242a',
  grid: GRIDS.map(g=>Object.assign({containLabel:false}, g)),
  xAxis: xAxes,
  yAxis: yAxes,
  series: series,
  graphic: graphic
});
</script>
</body></html>
